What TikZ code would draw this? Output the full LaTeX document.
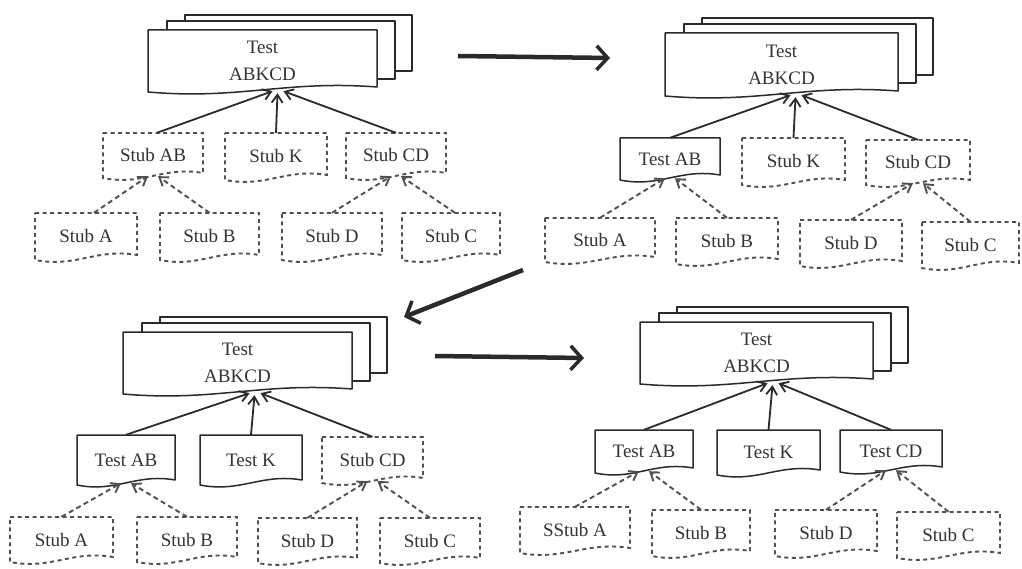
\documentclass[tikz,border=0pt]{standalone}
\usepackage{fontspec}
\setmainfont{Liberation Serif}
\usetikzlibrary{arrows.meta}
\definecolor{ink}{HTML}{2A2A2A}
\definecolor{dashink}{HTML}{505050}
\definecolor{txt}{HTML}{333333}

\tikzset{
  lbl/.style={inner sep=0pt, font=\fontsize{19}{27}\selectfont, text=txt, align=center},
  solidbox/.style={draw=ink, line width=1.5pt, line join=round},
  stubbox/.style={draw=dashink, line width=1.9pt, dash pattern=on 4pt off 3.5pt},
  page/.style={draw=ink, line width=1.5pt, fill=white, line join=round},
  link/.style={draw=ink, line width=1.8pt, -{Straight Barb[length=8pt,width=11pt]}},
  stublink/.style={draw=dashink, line width=1.9pt, dash pattern=on 5pt off 3.5pt,
                   -{Straight Barb[length=8pt,width=11pt]}},
  flow/.style={draw=ink, line width=4.5pt,
               -{Straight Barb[length=11pt,width=24pt,line width=3.5pt]}},
}

% document shape: #1 style, #2 name, #3 left, #4 right, #5 top, #6 bottom (left corner), #7 text
\newcommand\docnode[7]{%
  \path[#1] ({#3},{#5}) -- ({#4},{#5}) -- ({#4},{#6-5})
    .. controls ({#4-0.4*(#4-#3)},{#6-12}) and ({#3+0.4*(#4-#3)},{#6+8}) .. ({#3},{#6}) -- cycle;
  \node[lbl, minimum width={(#4-#3)*1pt}, minimum height={(#6-#5)*1pt}]
    (#2) at ({(#3+#4)/2},{(#5+#6)/2}) {#7};
}
% stack of three documents: #1 name, #2 left, #3 right, #4 top, #5 bottom, #6 text
\newcommand\stackdoc[6]{%
  \path[page] ({#2+37},{#4-15}) rectangle ({#3+35},{#5-21});
  \path[page] ({#2+19},{#4-9}) rectangle ({#3+18},{#5-13});
  \docnode{page}{#1}{#2}{#3}{#4}{#5}{#6}
}

\begin{document}
\begin{tikzpicture}[x=1pt, y=-1pt]
\useasboundingbox[fill=white] (0,0) rectangle (1022,569);

% ---------- step 1 ----------
\stackdoc{top1}{148}{377}{30}{92}{Test\\ABKCD}
\docnode{stubbox}{sab1}{103}{203}{133}{178}{Stub AB}
\docnode{stubbox}{sk1}{225}{327}{133}{180}{Stub K}
\docnode{stubbox}{scd1}{346}{446}{133}{178}{Stub CD}
\docnode{stubbox}{sa1}{35}{137}{213}{260}{Stub A}
\docnode{stubbox}{sb1}{160}{259}{213}{260}{Stub B}
\docnode{stubbox}{sd1}{282}{382}{213}{260}{Stub D}
\docnode{stubbox}{sc1}{402}{500}{213}{260}{Stub C}
\coordinate (t1) at ([xshift=15pt,yshift=1pt]top1.south);
\draw[link] ([xshift=4pt]sab1.north) -- ([xshift=-5pt]t1);
\draw[link] (sk1.north) -- ([yshift=-2pt]t1);
\draw[link] (scd1.north) -- ([xshift=6pt]t1);
\draw[stublink] ([xshift=8pt]sa1.north) -- ([xshift=-5pt,yshift=2pt]sab1.south);
\draw[stublink] (sb1.north) -- ([xshift=5pt,yshift=2pt]sab1.south);
\draw[stublink] (sd1.north) -- ([xshift=-5pt,yshift=2pt]scd1.south);
\draw[stublink] ([xshift=4pt]sc1.north) -- ([xshift=5pt,yshift=2pt]scd1.south);

% ---------- step 2 ----------
\stackdoc{top2}{665}{898}{33}{96}{Test\\ABKCD}
\docnode{solidbox}{tab2}{620}{720}{138}{180}{Test AB}
\docnode{stubbox}{sk2}{742}{845}{138}{185}{Stub K}
\docnode{stubbox}{scd2}{866}{970}{140}{185}{Stub CD}
\docnode{stubbox}{sa2}{545}{655}{218}{262}{Stub A}
\docnode{stubbox}{sb2}{676}{778}{218}{264}{Stub B}
\docnode{stubbox}{sd2}{800}{902}{220}{266}{Stub D}
\docnode{stubbox}{sc2}{922}{1019}{222}{268}{Stub C}
\coordinate (t2) at ([xshift=14pt,yshift=1pt]top2.south);
\draw[link] (tab2.north) -- ([xshift=-5pt]t2);
\draw[link] (sk2.north) -- ([yshift=-2pt]t2);
\draw[link] (scd2.north) -- ([xshift=6pt]t2);
\draw[stublink] (sa2.north) -- ([xshift=-5pt,yshift=2pt]tab2.south);
\draw[stublink] (sb2.north) -- ([xshift=5pt,yshift=2pt]tab2.south);
\draw[stublink] (sd2.north) -- ([xshift=-5pt,yshift=2pt]scd2.south);
\draw[stublink] (sc2.north) -- ([xshift=5pt,yshift=2pt]scd2.south);

% ---------- step 3 ----------
\stackdoc{top3}{123}{352}{332}{394}{Test\\ABKCD}
\docnode{solidbox}{tab3}{77}{175}{435}{485}{Test AB}
\docnode{solidbox}{tk3}{200}{302}{435}{485}{Test K}
\docnode{stubbox}{scd3}{322}{423}{437}{483}{Stub CD}
\docnode{stubbox}{sa3}{10}{113}{517}{562}{Stub A}
\docnode{stubbox}{sb3}{137}{237}{517}{562}{Stub B}
\docnode{stubbox}{sd3}{258}{357}{518}{563}{Stub D}
\docnode{stubbox}{sc3}{380}{480}{518}{563}{Stub C}
\coordinate (t3) at ([xshift=17pt,yshift=1pt]top3.south);
\draw[link] (tab3.north) -- ([xshift=-5pt]t3);
\draw[link] (tk3.north) -- ([yshift=-2pt]t3);
\draw[link] (scd3.north) -- ([xshift=6pt]t3);
\draw[stublink] (sa3.north) -- ([xshift=-5pt,yshift=2pt]tab3.south);
\draw[stublink] (sb3.north) -- ([xshift=5pt,yshift=2pt]tab3.south);
\draw[stublink] (sd3.north) -- ([xshift=-5pt,yshift=2pt]scd3.south);
\draw[stublink] (sc3.north) -- ([xshift=5pt,yshift=2pt]scd3.south);

% ---------- step 4 ----------
\stackdoc{top4}{640}{873}{322}{384}{Test\\ABKCD}
\docnode{solidbox}{tab4}{595}{693}{430}{473}{Test AB}
\docnode{solidbox}{tk4}{717}{820}{430}{475}{Test K}
\docnode{solidbox}{tcd4}{840}{942}{430}{472}{Test CD}
\docnode{stubbox}{sa4}{520}{630}{507}{553}{SStub A}
\docnode{stubbox}{sb4}{652}{750}{510}{556}{Stub B}
\docnode{stubbox}{sd4}{775}{877}{510}{556}{Stub D}
\docnode{stubbox}{sc4}{897}{1000}{512}{558}{Stub C}
\coordinate (t4) at ([xshift=16pt,yshift=1pt]top4.south);
\draw[link] (tab4.north) -- ([xshift=-5pt]t4);
\draw[link] (tk4.north) -- ([yshift=-2pt]t4);
\draw[link] (tcd4.north) -- ([xshift=6pt]t4);
\draw[stublink] (sa4.north) -- ([xshift=-5pt,yshift=2pt]tab4.south);
\draw[stublink] (sb4.north) -- ([xshift=5pt,yshift=2pt]tab4.south);
\draw[stublink] (sd4.north) -- ([xshift=-5pt,yshift=2pt]tcd4.south);
\draw[stublink] (sc4.north) -- ([xshift=5pt,yshift=2pt]tcd4.south);

% ---------- progression arrows ----------
\coordinate (f1s) at (458,56);  \coordinate (f1e) at (610,58);
\coordinate (f2s) at (523,270); \coordinate (f2e) at (404,317);
\coordinate (f3s) at (435,356); \coordinate (f3e) at (584,358);
\draw[flow] (f1s) -- (f1e);
\draw[flow] (f2s) -- (f2e);
\draw[flow] (f3s) -- (f3e);
\end{tikzpicture}
\end{document}
